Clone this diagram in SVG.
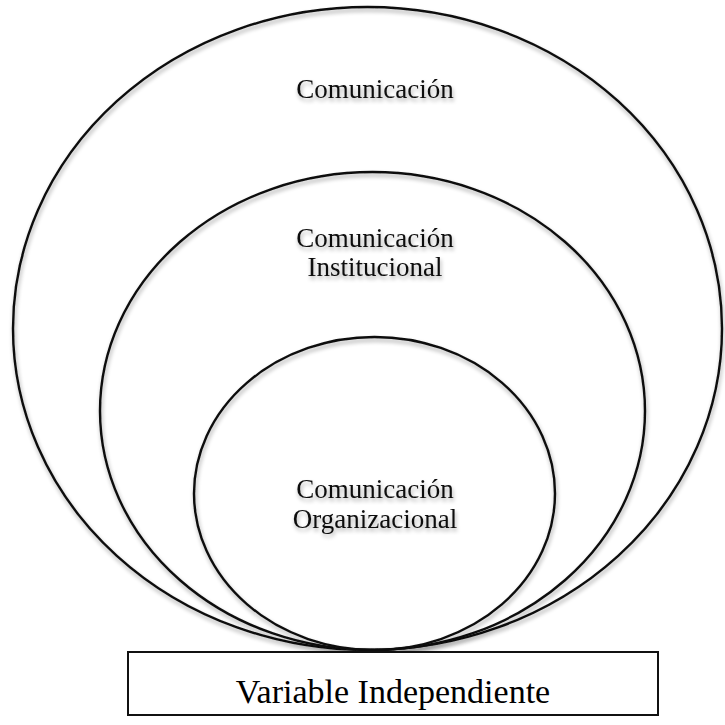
<svg xmlns="http://www.w3.org/2000/svg" width="725" height="725" viewBox="0 0 725 725">
<defs>
<filter id="sh" x="-20%" y="-20%" width="140%" height="160%">
<feGaussianBlur in="SourceAlpha" stdDeviation="2"/>
<feOffset dx="1" dy="3" result="b"/>
<feComponentTransfer><feFuncA type="linear" slope="0.35"/></feComponentTransfer>
<feMerge><feMergeNode/><feMergeNode in="SourceGraphic"/></feMerge>
</filter>
</defs>
<style>
.ring{fill:none;stroke:#111;stroke-width:2.4}
.lbl{font-family:"Liberation Serif","Times New Roman",serif;font-size:27px;fill:#111;text-anchor:middle}
.box{fill:#fff;stroke:#111;stroke-width:2}
.btxt{font-family:"Liberation Serif","Times New Roman",serif;font-size:34px;fill:#000;text-anchor:middle}
</style>
<rect width="725" height="725" fill="#fff"/>
<g id="outer" filter="url(#sh)">
<ellipse class="ring" cx="367.5" cy="328.5" rx="354.5" ry="321.5"/>
<text class="lbl" x="375" y="98">Comunicación</text>
</g>
<g id="middle" filter="url(#sh)">
<ellipse class="ring" cx="372.5" cy="411" rx="272.5" ry="239"/>
<text class="lbl" x="375" y="247">Comunicación</text>
<text class="lbl" x="375" y="276">Institucional</text>
</g>
<g id="inner" filter="url(#sh)">
<ellipse class="ring" cx="374.5" cy="493.5" rx="180.5" ry="156.5"/>
<text class="lbl" x="375" y="498">Comunicación</text>
<text class="lbl" x="375" y="528">Organizacional</text>
</g>
<g id="variable">
<rect class="box" x="128" y="652" width="530" height="63"/>
<text class="btxt" x="393" y="703">Variable Independiente</text>
</g>
</svg>
